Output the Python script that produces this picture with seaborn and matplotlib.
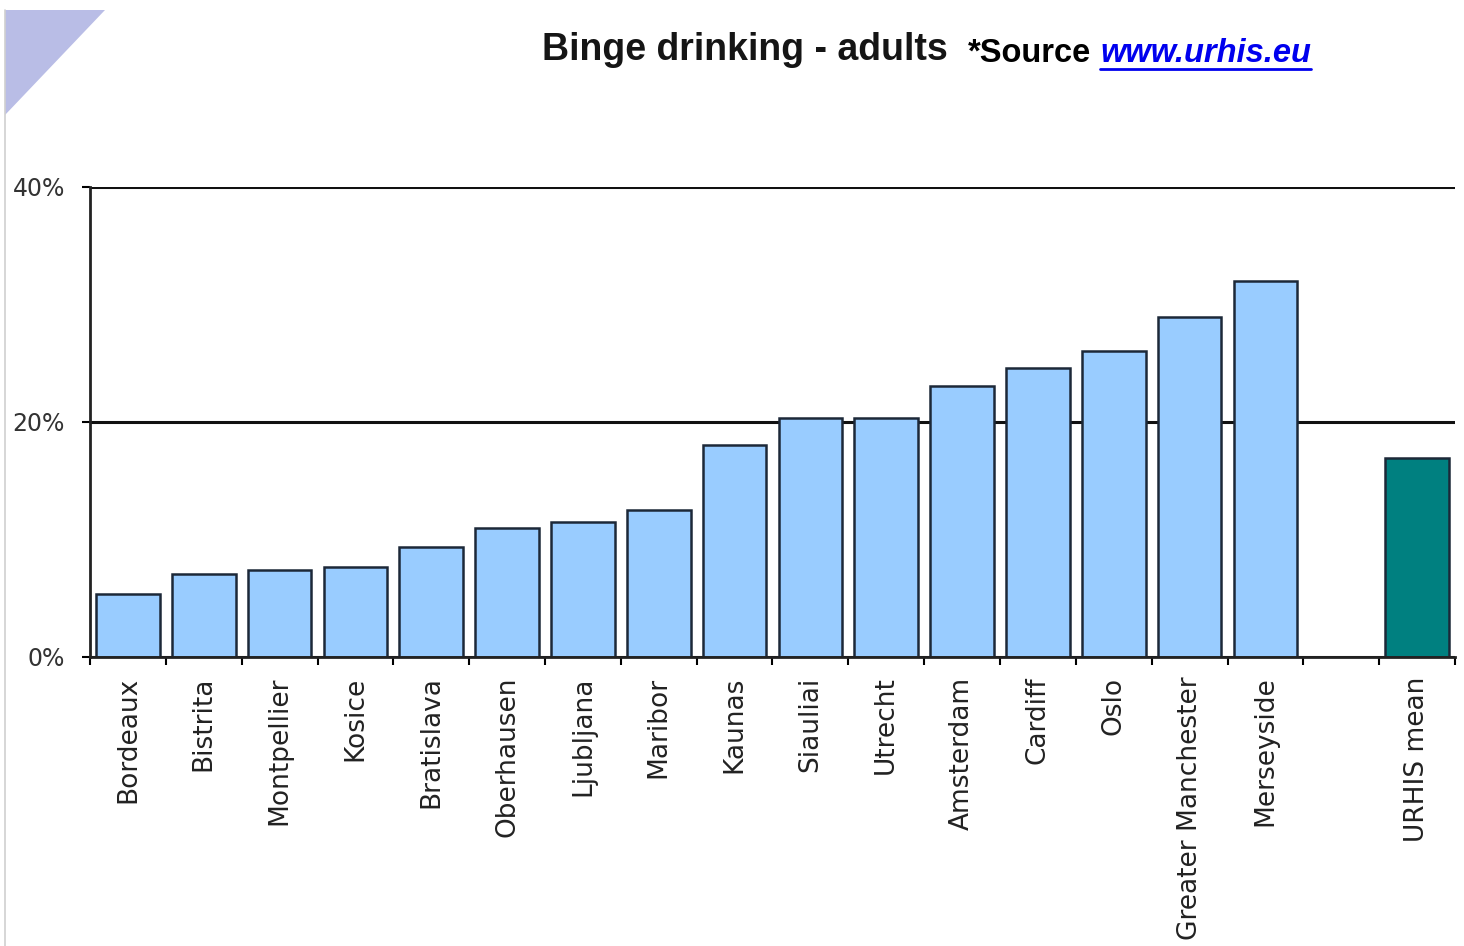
import matplotlib.pyplot as plt
import seaborn as sns
import pandas as pd
import numpy as np
from matplotlib.patches import Polygon
from matplotlib.lines import Line2D

# data (percent of adults)
cities = ["Bordeaux", "Bistrita", "Montpellier", "Kosice", "Bratislava", "Oberhausen",
          "Ljubljana", "Maribor", "Kaunas", "Siauliai", "Utrecht", "Amsterdam",
          "Cardiff", "Oslo", "Greater Manchester", "Merseyside"]
values = [5.4, 7.1, 7.4, 7.7, 9.4, 11.0, 11.5, 12.5, 18.0, 20.3, 20.3, 23.1,
          24.6, 26.0, 28.9, 32.0]
mean_label = "URHIS mean"
mean_value = 16.9
gap = " "  # empty slot between the cities and the mean

sns.set_theme(style="white")
plt.rcParams['font.family'] = ['Liberation Sans', 'DejaVu Sans']

df = pd.DataFrame({"city": cities + [mean_label], "pct": values + [mean_value]})
order = cities + [gap, mean_label]
palette = {c: "#99ccff" for c in cities}
palette[mean_label] = "#008080"

fig = plt.figure(figsize=(14.64, 9.46), dpi=100)
W, H = 1464, 946
ax = fig.add_axes([90 / W, 1 - 657 / H, 1365 / W, 470 / H])

sns.barplot(data=df, x="city", y="pct", hue="city", order=order, palette=palette,
            saturation=1, width=0.84, edgecolor="#1c2838", linewidth=1.8,
            legend=False, ax=ax)

ax.set_xlim(-0.5, len(order) - 0.5)
ax.set_ylim(0, 40)
ax.set_xlabel("")
ax.set_ylabel("")

# y axis: 0/20/40 with black horizontal lines behind the bars
ax.set_yticks([0, 20, 40])
ax.set_yticklabels(["0%", "20%", "40%"], family="DejaVu Sans")
ax.yaxis.grid(True, color="#111111", linewidth=2.2)
ax.xaxis.grid(False)
ax.set_axisbelow(True)
ax.tick_params(axis="y", length=6, width=1.5, color="black", direction="out",
               left=True, labelsize=17, labelcolor="#333333", pad=12)

# x axis: labels at bar centres, tick marks at category boundaries
ax.set_xticks(range(len(order)))
ax.set_xticklabels(["" if c == gap else c for c in order], rotation=90,
                   family="DejaVu Sans")
ax.set_xticks(np.arange(-0.5, len(order), 1), minor=True)
ax.tick_params(axis="x", which="major", length=0, labelsize=19,
               labelcolor="#222222", pad=14)
ax.tick_params(axis="x", which="minor", length=6, width=1.5, color="black",
               direction="out", bottom=True)

for s in ["top", "right"]:
    ax.spines[s].set_visible(False)
for s in ["left", "bottom"]:
    ax.spines[s].set_color("#222222")
    ax.spines[s].set_linewidth(2)

# slide decoration in the top-left corner
fig.add_artist(Polygon([(5 / W, 1 - 10 / H), (105 / W, 1 - 10 / H), (5 / W, 1 - 115 / H)],
                       closed=True, transform=fig.transFigure,
                       facecolor="#b9bde6", edgecolor="none"))
fig.add_artist(Line2D([5 / W, 5 / W], [0, 1 - 10 / H], transform=fig.transFigure,
                      color="#d0d0d0", linewidth=1.2))

# title and source
fig.text(542 / W, 1 - 50 / H, "Binge drinking - adults", fontsize=27,
         fontweight="bold", color="#151515", va="center", ha="left",
         family=["Liberation Sans Narrow", "Liberation Sans", "DejaVu Sans"])
fig.text(968 / W, 1 - 53 / H, "*Source", fontsize=23.5, fontweight="bold",
         color="black", va="center", ha="left")
link = fig.text(1100 / W, 1 - 53 / H, "www.urhis.eu", fontsize=23.5, fontweight="bold",
                style="italic", color="#0000ee", va="center", ha="left")

fig.canvas.draw()
bb = link.get_window_extent(fig.canvas.get_renderer())
fig.add_artist(Line2D([bb.x0 / W, bb.x1 / W], [(bb.y0 - 1) / H] * 2,
                      transform=fig.transFigure, color="#0000ee", linewidth=2))

fig.savefig("out.png", dpi=100)
